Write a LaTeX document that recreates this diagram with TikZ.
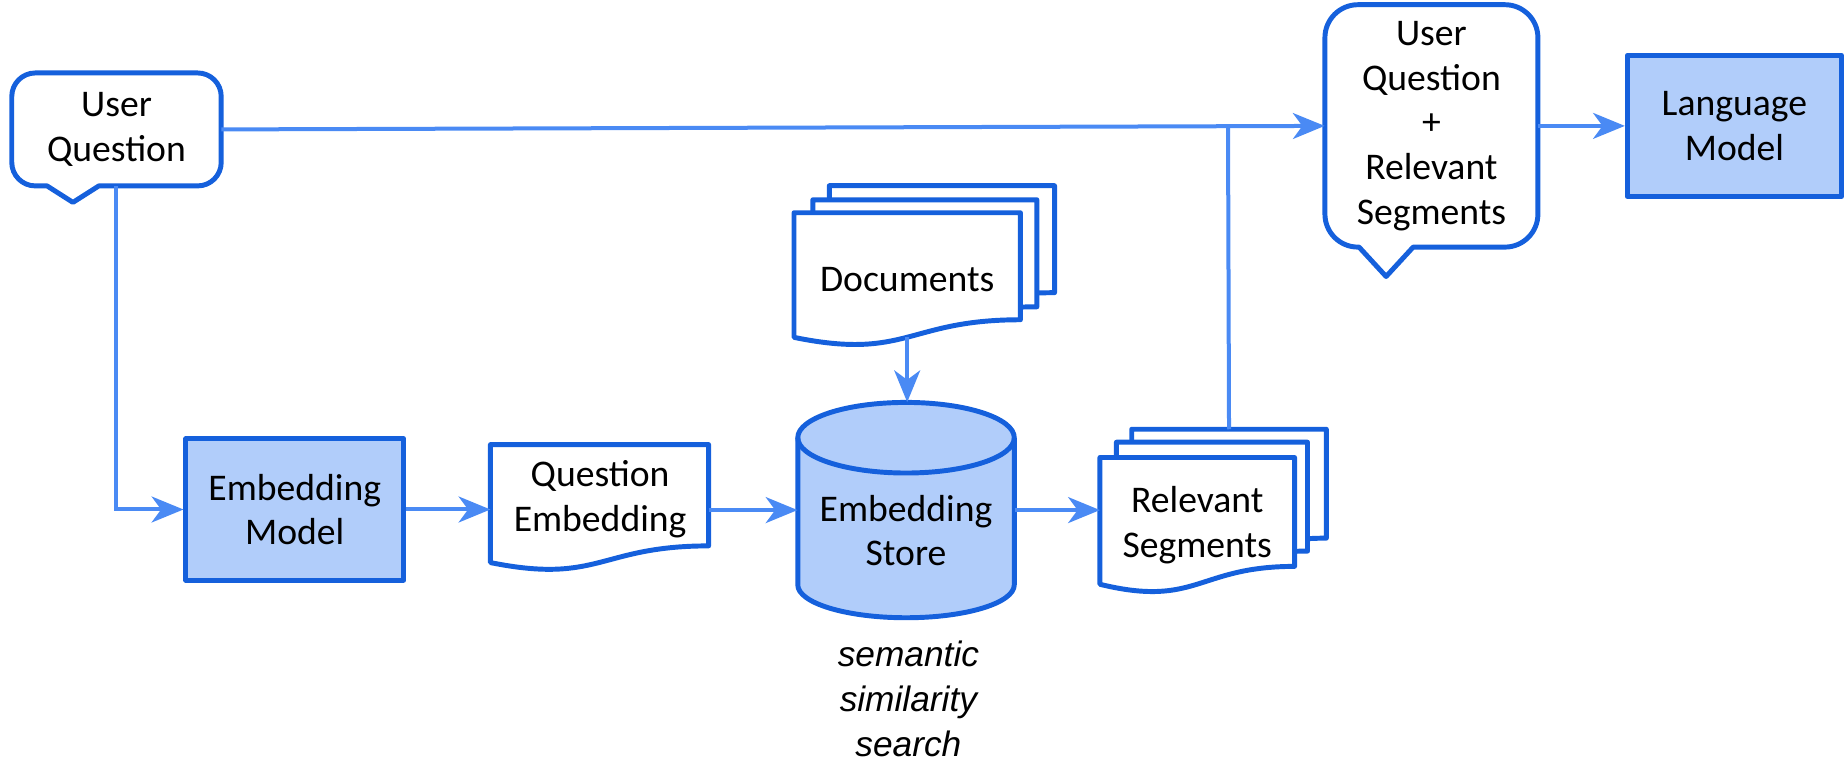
\documentclass[tikz,border=0pt]{standalone}
\usepackage{fontspec}
\setmainfont{Carlito}
\newfontfamily\capfont{Liberation Sans}
\usetikzlibrary{arrows.meta,calc,backgrounds}
\definecolor{bordc}{RGB}{21,96,220}
\definecolor{linkc}{RGB}{74,138,244}
\definecolor{boxfill}{RGB}{177,205,250}
\newcommand\drawdoc[1]{\draw[frame, fill=white] (#1.north west) -- (#1.north east) -- ($(#1.north east)!0.802!(#1.south east)$) .. controls ($(#1.north)!0.802!(#1.south)$) and ($(#1.north)!1.1075!(#1.south)$) .. ($(#1.north west)!0.934!(#1.south west)$) -- cycle;}
\begin{document}
\begin{tikzpicture}[x=1pt,y=-1pt,
  lbl/.style={font=\fontsize{32}{38}\selectfont, align=center, inner sep=0pt},
  frame/.style={draw=bordc, line width=4.2pt, line join=round},
  bluebox/.style={frame, fill=boxfill, lbl},
  plainline/.style={draw=linkc, line width=3.4pt},
  link/.style={plainline, -{Stealth[length=27pt,width=22pt,inset=8pt]}}]
\useasboundingbox (0,0) rectangle (1568,647.6);

% nodes
\node[lbl, minimum width=178pt, minimum height=96pt] (uq) at (99,110) {User\\Question};
\node[lbl, minimum width=181pt, minimum height=206pt] (comb) at (1216.5,107) {User\\Question\\+\\Relevant\\Segments};
\node[bluebox, minimum width=182pt, minimum height=120pt] (lm) at (1474,107) {Language\\Model};
\node[bluebox, minimum width=185pt, minimum height=120pt] (em) at (250.5,433) {Embedding\\Model};

\node[inner sep=0pt, minimum width=185pt, minimum height=107pt] (qe) at (509.5,431.5) {};
\node[lbl] (qet) at (510,424) {Question\\Embedding};

\node[inner sep=0pt, minimum width=191pt, minimum height=113pt] (d3) at (800.5,214.5) {};
\node[inner sep=0pt, minimum width=190pt, minimum height=113pt] (d2) at (786,226.5) {};
\node[lbl, minimum width=192pt, minimum height=113pt] (d1) at (771,237.5) {Documents};

\node[inner sep=0pt, minimum width=165pt, minimum height=115pt] (r3) at (1044.5,422.5) {};
\node[inner sep=0pt, minimum width=162pt, minimum height=115pt] (r2) at (1030,433.5) {};
\node[lbl, minimum width=165pt, minimum height=115pt] (r1) at (1017.5,446.5) {Relevant\\Segments};

\node[inner sep=0pt, minimum width=184pt, minimum height=183pt] (es) at (770,433.5) {};
\node[lbl] (est) at (770,451) {Embedding\\Store};

\node[font=\capfont\itshape\fontsize{30}{38}\selectfont, align=center, inner sep=0pt] (cap) at (772,594) {semantic\\similarity\\search};

% shapes
\begin{scope}[on background layer]
\draw[frame, fill=white] (30,62) -- (168,62) arc[start angle=270, end angle=360, radius=20]
  -- (188,138) arc[start angle=0, end angle=90, radius=20]
  -- (84,158) -- (62,172) -- (40,158) -- (30,158) arc[start angle=90, end angle=180, radius=20]
  -- (10,82) arc[start angle=180, end angle=270, radius=20] -- cycle;
\draw[frame, fill=white] (1154,4) -- (1279,4) arc[start angle=270, end angle=360, radius=28]
  -- (1307,182) arc[start angle=0, end angle=90, radius=28]
  -- (1201,210) -- (1178,235) -- (1155,210) -- (1154,210) arc[start angle=90, end angle=180, radius=28]
  -- (1126,32) arc[start angle=180, end angle=270, radius=28] -- cycle;
\drawdoc{qe}
\drawdoc{d3}
\drawdoc{d2}
\drawdoc{d1}
\drawdoc{r3}
\drawdoc{r2}
\drawdoc{r1}
\fill[boxfill] (678,372) -- (678,497) arc[start angle=180, end angle=0, x radius=92, y radius=28]
  -- (862,372) arc[start angle=360, end angle=180, x radius=92, y radius=30] -- cycle;
\draw[frame] (678,372) -- (678,497) arc[start angle=180, end angle=0, x radius=92, y radius=28] -- (862,372);
\draw[frame] (770,372) ellipse [x radius=92, y radius=30];
\end{scope}

% connectors
\draw[link] (uq.east) -- (comb.west);
\coordinate (j) at ($(uq.east)!(r3.north)!(comb.west)$);
\draw[plainline] (r3.north) -- (j);
\draw[link] (uq.south) |- (em.west);
\draw[link] (em.east) -- (qe.west |- em.east);
\draw[link] (qe.east |- es.west) -- (es.west);
\draw[link] (es.east) -- (es.east -| r1.west);
\coordinate (dbot) at ($(d1.north)!0.933!(d1.south)$);
\draw[link] (dbot) -- (dbot |- es.north);
\draw[link] (comb.east) -- (lm.west);
\end{tikzpicture}
\end{document}
